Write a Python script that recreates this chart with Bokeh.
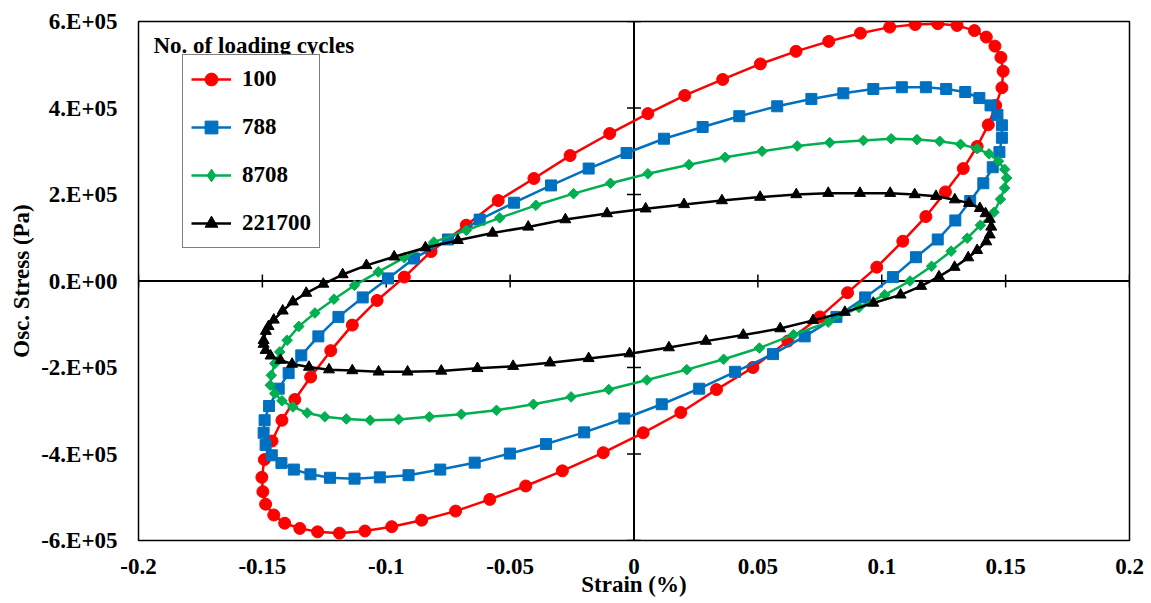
import math
from bokeh.plotting import figure
from bokeh.models import Range1d, FixedTicker, Span, Label, Legend, LegendItem
from bokeh.embed import file_html
from bokeh.resources import INLINE

FONT = "Liberation Serif"

# ---- tick definitions ----
x_ticks = [-0.2, -0.15, -0.1, -0.05, 0.0, 0.05, 0.1, 0.15, 0.2]
x_tick_labels = ["-0.2", "-0.15", "-0.1", "-0.05", "0", "0.05", "0.1", "0.15", "0.2"]
y_ticks = [-6e5, -4e5, -2e5, 0.0, 2e5, 4e5, 6e5]
y_tick_labels = ["-6.E+05", "-4.E+05", "-2.E+05", "0.E+00", "2.E+05", "4.E+05", "6.E+05"]

series_labels = ["100", "788", "8708", "221700"]

# ---- 100 cycles (strain %, stress Pa) ----
red_strain = [-0.1502, -0.1492, -0.1461, -0.1421, -0.1369, -0.1305, -0.1224, -0.1137, -0.1037, -0.0927,
              -0.0819, -0.0677, -0.0548, -0.0404, -0.0258, -0.0098, 0.0056, 0.0205, 0.0358, 0.0510,
              0.0654, 0.0786, 0.0914, 0.1032, 0.1135, 0.1226, 0.1304, 0.1374, 0.1422, 0.1457,
              0.1481, 0.1490, 0.1485, 0.1460, 0.1430, 0.1385, 0.1329, 0.1257, 0.1178, 0.1085,
              0.0980, 0.0862, 0.0750, 0.0621, 0.0480, 0.0333, 0.0189, 0.0037, -0.0124, -0.0289,
              -0.0437, -0.0582, -0.0720, -0.0857, -0.0978, -0.1086, -0.1189, -0.1277, -0.1349, -0.1410,
              -0.1454, -0.1487, -0.1498]
red_stress = [-4.54e5, -4.13e5, -3.70e5, -3.22e5, -2.74e5, -2.22e5, -1.61e5, -1.02e5, -0.45e5, 0.09e5,
              0.68e5, 1.29e5, 1.86e5, 2.37e5, 2.90e5, 3.41e5, 3.87e5, 4.29e5, 4.66e5, 5.02e5,
              5.31e5, 5.54e5, 5.73e5, 5.87e5, 5.93e5, 5.95e5, 5.91e5, 5.79e5, 5.64e5, 5.43e5,
              5.17e5, 4.85e5, 4.47e5, 4.06e5, 3.61e5, 3.11e5, 2.60e5, 2.06e5, 1.49e5, 0.92e5,
              0.32e5, -0.27e5, -0.83e5, -1.39e5, -2.00e5, -2.51e5, -3.04e5, -3.51e5, -3.97e5, -4.39e5,
              -4.74e5, -5.05e5, -5.32e5, -5.53e5, -5.68e5, -5.78e5, -5.83e5, -5.80e5, -5.72e5, -5.60e5,
              -5.41e5, -5.16e5, -4.87e5]

# ---- 788 cycles ----
blue_strain = [-0.1495, -0.1491, -0.1473, -0.1434, -0.1394, -0.1343, -0.1274, -0.1193, -0.1095, -0.0993,
               -0.0888, -0.0751, -0.0623, -0.0484, -0.0335, -0.0183, -0.0030, 0.0121, 0.0277, 0.0425,
               0.0578, 0.0716, 0.0845, 0.0966, 0.1081, 0.1178, 0.1260, 0.1337, 0.1394, 0.1439,
               0.1467, 0.1485, 0.1485, 0.1475, 0.1448, 0.1410, 0.1357, 0.1297, 0.1226, 0.1138,
               0.1045, 0.0933, 0.0817, 0.0689, 0.0561, 0.0408, 0.0263, 0.0112, -0.0039, -0.0201,
               -0.0355, -0.0501, -0.0643, -0.0782, -0.0910, -0.1026, -0.1128, -0.1227, -0.1306, -0.1373,
               -0.1423, -0.1462, -0.1487]
blue_stress = [-3.51e5, -3.22e5, -2.89e5, -2.49e5, -2.13e5, -1.72e5, -1.28e5, -0.83e5, -0.38e5, 0.06e5,
               0.52e5, 0.96e5, 1.42e5, 1.81e5, 2.21e5, 2.60e5, 2.96e5, 3.29e5, 3.56e5, 3.81e5,
               4.04e5, 4.21e5, 4.34e5, 4.44e5, 4.48e5, 4.48e5, 4.44e5, 4.37e5, 4.23e5, 4.06e5,
               3.84e5, 3.60e5, 3.31e5, 2.98e5, 2.63e5, 2.26e5, 1.85e5, 1.40e5, 0.96e5, 0.55e5,
               0.09e5, -0.38e5, -0.83e5, -1.28e5, -1.69e5, -2.10e5, -2.49e5, -2.85e5, -3.18e5, -3.50e5,
               -3.77e5, -3.99e5, -4.20e5, -4.36e5, -4.49e5, -4.54e5, -4.57e5, -4.55e5, -4.47e5, -4.36e5,
               -4.21e5, -4.03e5, -3.79e5]

# ---- 8708 cycles ----
green_strain = [-0.1468, -0.1464, -0.1450, -0.1430, -0.1400, -0.1353, -0.1288, -0.1211, -0.1128, -0.1032,
                -0.0927, -0.0808, -0.0677, -0.0542, -0.0396, -0.0244, -0.0095, 0.0056, 0.0222, 0.0368,
                0.0517, 0.0659, 0.0790, 0.0926, 0.1038, 0.1142, 0.1234, 0.1318, 0.1385, 0.1433,
                0.1471, 0.1496, 0.1504, 0.1496, 0.1479, 0.1453, 0.1398, 0.1345, 0.1280, 0.1201,
                0.1114, 0.1012, 0.0908, 0.0784, 0.0644, 0.0506, 0.0362, 0.0213, 0.0052, -0.0102,
                -0.0254, -0.0406, -0.0555, -0.0697, -0.0826, -0.0950, -0.1065, -0.1161, -0.1248, -0.1319,
                -0.1377, -0.1421, -0.1450]
green_stress = [-2.41e5, -2.18e5, -1.91e5, -1.64e5, -1.37e5, -1.05e5, -0.74e5, -0.42e5, -0.10e5, 0.21e5,
                0.54e5, 0.90e5, 1.17e5, 1.46e5, 1.75e5, 2.02e5, 2.26e5, 2.48e5, 2.69e5, 2.86e5,
                3.00e5, 3.12e5, 3.20e5, 3.25e5, 3.29e5, 3.27e5, 3.23e5, 3.16e5, 3.06e5, 2.94e5,
                2.77e5, 2.58e5, 2.38e5, 2.15e5, 1.89e5, 1.59e5, 1.29e5, 0.99e5, 0.69e5, 0.34e5,
                0.00e5, -0.32e5, -0.61e5, -0.95e5, -1.24e5, -1.55e5, -1.81e5, -2.05e5, -2.29e5, -2.51e5,
                -2.68e5, -2.85e5, -2.99e5, -3.08e5, -3.14e5, -3.20e5, -3.22e5, -3.19e5, -3.14e5, -3.05e5,
                -2.91e5, -2.77e5, -2.60e5]

# ---- 221700 cycles ----
black_strain = [-0.1495, -0.1486, -0.1475, -0.1454, -0.1418, -0.1377, -0.1323, -0.1254, -0.1176, -0.1080,
                -0.0968, -0.0842, -0.0711, -0.0571, -0.0427, -0.0277, -0.0109, 0.0047, 0.0202, 0.0355,
                0.0509, 0.0655, 0.0784, 0.0912, 0.1034, 0.1133, 0.1219, 0.1295, 0.1352, 0.1396,
                0.1419, 0.1436, 0.1442, 0.1436, 0.1422, 0.1385, 0.1349, 0.1294, 0.1231, 0.1159,
                0.1076, 0.0966, 0.0851, 0.0723, 0.0590, 0.0441, 0.0290, 0.0141, -0.0018, -0.0183,
                -0.0339, -0.0488, -0.0632, -0.0778, -0.0914, -0.1031, -0.1137, -0.1231, -0.1312, -0.1380,
                -0.1427, -0.1467, -0.1487, -0.1495]
black_stress = [-1.37e5, -1.16e5, -1.05e5, -0.90e5, -0.69e5, -0.48e5, -0.28e5, -0.07e5, 0.15e5, 0.36e5,
                0.56e5, 0.77e5, 0.94e5, 1.11e5, 1.25e5, 1.42e5, 1.56e5, 1.67e5, 1.77e5, 1.86e5,
                1.94e5, 2.00e5, 2.03e5, 2.03e5, 2.03e5, 2.00e5, 1.96e5, 1.88e5, 1.80e5, 1.68e5,
                1.56e5, 1.43e5, 1.25e5, 1.07e5, 0.91e5, 0.71e5, 0.54e5, 0.32e5, 0.10e5, -0.12e5,
                -0.32e5, -0.51e5, -0.72e5, -0.91e5, -1.10e5, -1.25e5, -1.39e5, -1.54e5, -1.68e5, -1.79e5,
                -1.89e5, -1.97e5, -2.02e5, -2.08e5, -2.10e5, -2.10e5, -2.07e5, -2.05e5, -1.99e5, -1.92e5,
                -1.83e5, -1.73e5, -1.60e5, -1.46e5]

p = figure(width=1151, height=603, output_backend="svg", toolbar_location=None,
           x_range=Range1d(-0.2, 0.2), y_range=Range1d(-6e5, 6e5),
           min_border_left=138, min_border_right=22, min_border_top=21, min_border_bottom=63)
p.grid.visible = False
p.outline_line_color = "black"
p.outline_line_width = 1.5
p.background_fill_color = "white"
p.border_fill_color = "white"

for ax, ticks, labels in ((p.xaxis[0], x_ticks, x_tick_labels), (p.yaxis[0], y_ticks, y_tick_labels)):
    ax.ticker = FixedTicker(ticks=ticks)
    ax.major_label_overrides = dict(zip(ticks, labels))
    ax.axis_line_color = None
    ax.major_tick_line_color = None
    ax.minor_tick_line_color = None
    ax.major_tick_out = 0
    ax.major_tick_in = 0
    ax.major_label_text_font = FONT
    ax.major_label_text_font_style = "bold"
    ax.major_label_text_font_size = "23px"
    ax.major_label_text_color = "black"
    ax.axis_label_text_font = FONT
    ax.axis_label_text_font_style = "bold"
    ax.axis_label_text_font_size = "23px"
    ax.axis_label_text_color = "black"

p.xaxis.axis_label = "Strain (%)"
p.xaxis.major_label_standoff = 18
p.xaxis.axis_label_standoff = -5
p.yaxis.axis_label = "Osc. Stress (Pa)"
p.yaxis.major_label_standoff = 21
p.yaxis.axis_label_standoff = 4

# central axes through zero
p.add_layout(Span(location=0, dimension="height", line_color="black", line_width=2, level="underlay"))
p.add_layout(Span(location=0, dimension="width", line_color="black", line_width=2, level="underlay"))

inner_y = [t for t in y_ticks if t != 0]
inner_x = [t for t in x_ticks if t != 0]
p.scatter(x=[0] * len(inner_y), y=inner_y, marker="dash", size=14, line_color="black", line_width=1.5)
p.scatter(x=inner_x, y=[0] * len(inner_x), marker="dash", angle=math.pi / 2, size=13,
          line_color="black", line_width=1.5)

styles = [
    ("#FF0000", "circle", 12, 0.0, None),
    ("#0070C0", "square", 11, 0.0, None),
    ("#00B050", "square", 7.5, math.pi / 4, "diamond"),
    ("#000000", "triangle", 11, 0.0, None),
]
data = [(red_strain, red_stress), (blue_strain, blue_stress),
        (green_strain, green_stress), (black_strain, black_stress)]

items = []
for label, (xs, ys), (color, marker, size, ang, legend_marker) in zip(series_labels, data, styles):
    ln = p.line(xs + xs[:1], ys + ys[:1], line_color=color, line_width=2.5)
    sc = p.scatter(xs, ys, marker=marker, size=size, angle=ang, fill_color=color, line_color=color)
    if legend_marker is not None:
        # legend-only glyph (rotated markers are not rotated in the legend); its single point is NaN
        sc = p.scatter(x=[float("nan")], y=[float("nan")], marker=legend_marker, size=12,
                       fill_color=color, line_color=color)
    items.append(LegendItem(label=label, renderers=[ln, sc]))

legend = Legend(items=items, location=(44, 292))
legend.label_text_font = FONT
legend.label_text_font_style = "bold"
legend.label_text_font_size = "23px"
legend.label_text_color = "black"
legend.border_line_color = "black"
legend.border_line_width = 1.2
legend.background_fill_color = "white"
legend.background_fill_alpha = 1.0
legend.padding = 8
legend.spacing = 16
legend.margin = 0
legend.glyph_width = 40
legend.glyph_height = 32
legend.label_height = 32
legend.label_standoff = 11
p.add_layout(legend)

p.add_layout(Label(x=15, y=495, x_units="screen", y_units="screen", text="No. of loading cycles",
                   text_font=FONT, text_font_style="bold", text_font_size="23px",
                   text_color="black", text_baseline="alphabetic"))

open("out.html", "w").write(file_html(p, INLINE))
